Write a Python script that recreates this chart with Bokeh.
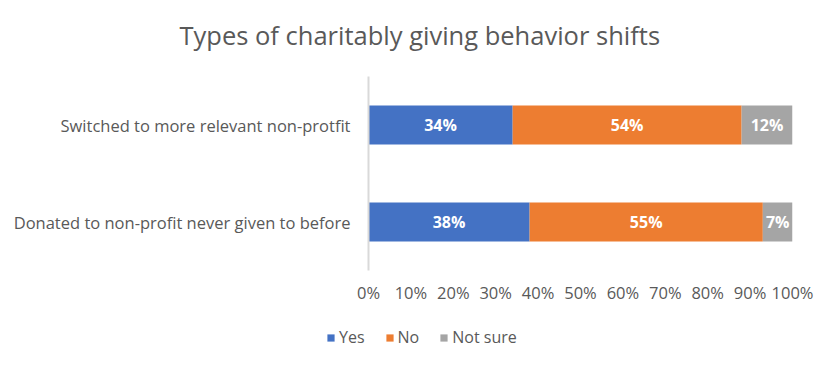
from bokeh.plotting import figure
from bokeh.layouts import column
from bokeh.models import ColumnDataSource, Legend, LegendItem, NumeralTickFormatter, FixedTicker, Range1d, FactorRange, Title
from bokeh.core.properties import value
from bokeh.embed import file_html
from bokeh.resources import INLINE

categories = ["Donated to non-profit never given to before", "Switched to more relevant non-protfit"]
series = ["Yes", "No", "Not sure"]
yes = [0.38, 0.34]
no = [0.55, 0.54]
not_sure = [0.07, 0.12]
colors = ["#4472C4", "#ED7D31", "#A5A5A5"]
tick_values = [0, 0.1, 0.2, 0.3, 0.4, 0.5, 0.6, 0.7, 0.8, 0.9, 1.0]
title_text = "Types of charitably giving behavior shifts"

FONT = "Open Sans"
GREY = "#595959"

p = figure(width=820, height=310, y_range=FactorRange(*categories, range_padding=0),
           x_range=Range1d(0, 1), output_backend="svg", toolbar_location=None,
           min_border_left=368, min_border_right=28, min_border_top=76, min_border_bottom=40)
p.frame_align = False

data = dict(cat=categories, Yes=yes, No=no, NotSure=not_sure)
src = ColumnDataSource(data)
p.hbar_stack(["Yes", "No", "NotSure"], y="cat", height=0.4, color=colors, source=src, line_width=0)

# data labels
vals = [yes, no, not_sure]
lx, ly, lt = [], [], []
for i, cat in enumerate(categories):
    left = 0
    for s in vals:
        v = s[i]
        lx.append(left + v / 2)
        ly.append(cat)
        lt.append(f"{round(v*100)}%")
        left += v
p.text(x=lx, y=ly, text=lt, text_color="white", text_font=value(FONT), text_font_style="bold",
       text_font_size="16px", text_align="center", text_baseline="middle")

p.title.text = title_text
p.title.text_font = FONT
p.title.text_font_size = "25.5px"
p.title.text_font_style = "normal"
p.title.text_color = GREY
p.title.align = "left"
p.title.offset = -189
p.title.standoff = 0
# spacer between title and frame
p.add_layout(Title(text=" ", text_font_size="1px", standoff=22), "above")

p.xaxis.ticker = FixedTicker(ticks=tick_values)
p.xaxis.formatter = NumeralTickFormatter(format="0%")
p.xaxis.axis_line_color = None
p.xaxis.major_tick_line_color = None
p.xaxis.minor_tick_line_color = None
p.xaxis.major_label_text_font = FONT
p.xaxis.major_label_text_font_size = "16.5px"
p.xaxis.major_label_text_color = GREY
p.xaxis.major_label_standoff = 4

p.yaxis.axis_line_color = "#D9D9D9"
p.yaxis.axis_line_width = 2
p.yaxis.major_tick_line_color = None
p.yaxis.minor_tick_line_color = None
p.yaxis.major_label_text_font = FONT
p.yaxis.major_label_text_font_size = "16.5px"
p.yaxis.major_label_text_color = GREY
p.yaxis.major_label_standoff = 12

p.xgrid.grid_line_color = None
p.ygrid.grid_line_color = None
p.outline_line_color = None

# legend strip below the chart (its renderers are hidden; only the legend shows)
lg = figure(width=820, height=41, x_range=Range1d(2, 3), y_range=FactorRange(*categories),
            output_backend="svg", toolbar_location=None,
            min_border_left=0, min_border_right=0, min_border_top=0, min_border_bottom=0)
lg.frame_align = False
lg.axis.visible = False
lg.grid.grid_line_color = None
lg.outline_line_color = None
lg_renderers = lg.hbar_stack(["Yes", "No", "NotSure"], y="cat", height=0.4, color=colors,
                             source=ColumnDataSource(data), line_width=0)
for r in lg_renderers:
    r.visible = False
legend = Legend(items=[LegendItem(label=s, renderers=[r]) for s, r in zip(series, lg_renderers)],
                orientation="horizontal", location=(326, 3),
                glyph_width=9, glyph_height=9, label_standoff=4, spacing=20,
                label_text_font=FONT, label_text_font_size="16px", label_text_color=GREY,
                background_fill_alpha=0, border_line_color=None, padding=0, margin=0)
lg.add_layout(legend, "center")

open("out.html", "w").write(file_html(column(p, lg, spacing=0), INLINE))
